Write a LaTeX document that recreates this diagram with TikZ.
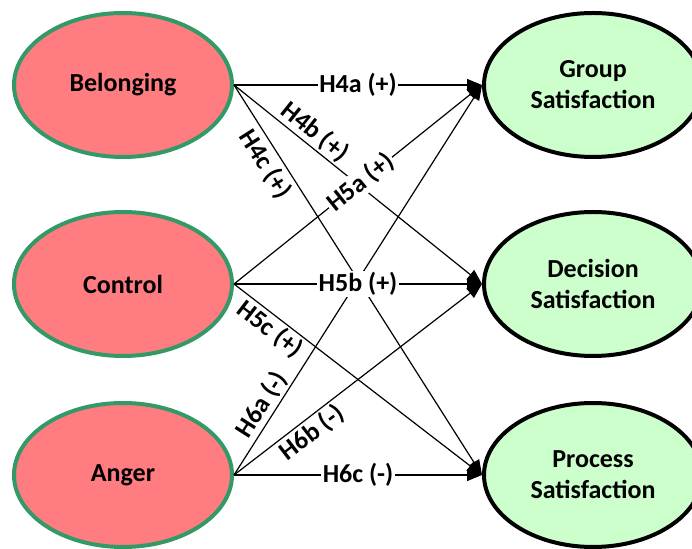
\documentclass[tikz,border=0pt]{standalone}
\usepackage{fontspec}
\setmainfont{Carlito}
\usetikzlibrary{arrows.meta,shapes.geometric}
\definecolor{predfill}{HTML}{FF7C80}
\definecolor{predline}{HTML}{339966}
\definecolor{outfill}{HTML}{CCFFCC}
\begin{document}
\begin{tikzpicture}[x=1pt,y=1pt,
  every node/.style={font=\fontsize{26}{31}\selectfont\bfseries},
  predictor/.style={ellipse,draw=predline,fill=predfill,line width=4pt,minimum width=218pt,minimum height=144pt,inner sep=0pt,align=center},
  outcome/.style={ellipse,draw=black,fill=outfill,line width=4pt,minimum width=218pt,minimum height=144pt,inner sep=0pt,align=center},
  link/.style={line width=1.2pt,-{Triangle[length=15pt,width=12pt]}},
  onlabel/.style={fill=white,inner sep=1.5pt},
  sidelabel/.style={inner sep=1pt,sloped}
]
\useasboundingbox (0,0) rectangle (692,548);
\node[predictor] (bel) at (123,463) {Belonging};
\node[predictor] (con) at (123,264) {Control};
\node[predictor] (ang) at (123,73) {Anger};
\node[outcome] (grp) at (593,463) {Group\\Satisfaction};
\node[outcome] (dec) at (593,264) {Decision\\Satisfaction};
\node[outcome] (pro) at (593,73) {Process\\Satisfaction};
% lines whose labels sit beside them
\draw[link] (bel.east) -- node[sidelabel,above=1pt,pos=0.29] {H4b (+)} (dec.west);
\draw[link] (bel.east) -- node[sidelabel,below=3pt,pos=0.18] {H4c (+)} (pro.west);
\draw[link] (con.east) -- node[sidelabel,below=1pt,pos=0.18] {H5c (+)} (pro.west);
\draw[link] (ang.east) -- node[sidelabel,above=1pt,pos=0.16] {H6a (-)} (grp.west);
\draw[link] (ang.east) -- node[sidelabel,below=1pt,pos=0.28] {H6b (-)} (dec.west);
% lines whose labels interrupt them
\draw[link] (bel.east) -- node[onlabel,pos=0.5] {H4a (+)} (grp.west);
\draw[link] (con.east) -- node[onlabel,sloped,pos=0.51] {H5a (+)} (grp.west);
\draw[link] (con.east) -- node[onlabel,pos=0.5] {H5b (+)} (dec.west);
\draw[link] (ang.east) -- node[onlabel,pos=0.5] {H6c (-)} (pro.west);
\end{tikzpicture}
\end{document}
